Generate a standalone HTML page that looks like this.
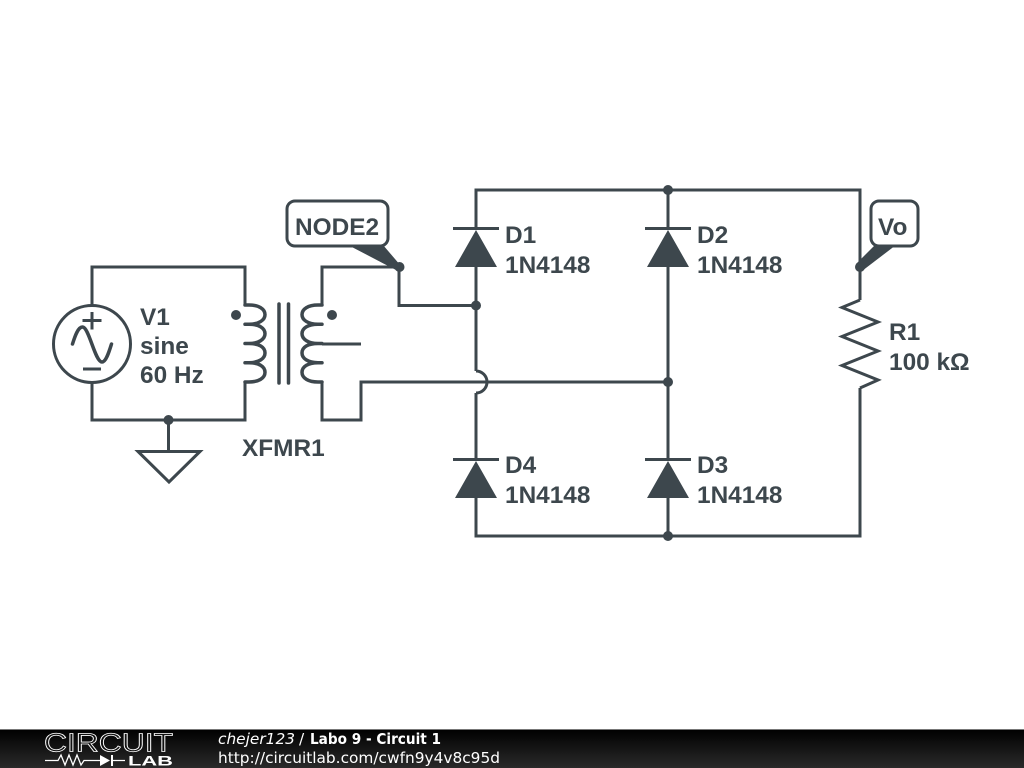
<!DOCTYPE html>
<html><head><meta charset="utf-8"><style>
html,body{margin:0;padding:0;background:#fff;width:1024px;height:768px;overflow:hidden}
svg{display:block}
.t{font-family:"Liberation Sans",sans-serif;font-weight:700;font-size:24.4px;fill:#3d474d}
.w{fill:none;stroke:#3d474d;stroke-width:3;stroke-linejoin:miter;stroke-linecap:butt}
.c{fill:none;stroke:#3d474d;stroke-width:3.500;stroke-linecap:round;stroke-linejoin:round}
.d{fill:#3d474d;stroke:none}
.f{font-family:"DejaVu Sans",sans-serif;font-size:15.4px;fill:#fff}
</style></head><body>
<svg width="1024" height="768" viewBox="0 0 1024 768" xmlns="http://www.w3.org/2000/svg">
<defs><linearGradient id="g" x1="0" y1="0" x2="0" y2="1"><stop offset="0" stop-color="#000"/><stop offset="1" stop-color="#2a2a2a"/></linearGradient></defs>
<rect width="1024" height="768" fill="#fff"/>
<path class="w" d="M92 306V267H245V305M245 383V420H92V383"/>
<path class="w" d="M168.500 420V451"/>
<path class="w" d="M138 451.500H200L169 482Z"/>
<circle class="w" cx="92" cy="344" r="38.500"/>
<path class="c" stroke-width="3" d="M72.500 344C75 336 78 327 82.500 327C89 327 95 362 102 362C106 362 109 352 111.500 344"/>
<path class="w" stroke-width="2.500" d="M92 312V329.500M82.500 320.500H101.500M83 369H101"/>
<path class="c" d="M245 305H249C259 305 265 309 265 314.600C265 320 259 324.200 249 324.200H245M249 324.200C259 324.200 265 328 265 333.800C265 339 259 343.500 249 343.500H245M249 343.500C259 343.500 265 347 265 353C265 358.500 259 362.700 249 362.700H245M249 362.700C259 362.700 265 366.500 265 372.300C265 378 259 382 249 382H245"/>
<path class="c" d="M322 305H318C308 305 302 309 302 314.600C302 320 308 324.200 318 324.200H322M318 324.200C308 324.200 302 328 302 333.800C302 339 308 343.500 318 343.500H322M318 343.500C308 343.500 302 347 302 353C302 358.500 308 362.700 318 362.700H322M318 362.700C308 362.700 302 366.500 302 372.300C302 378 308 382 318 382H322"/>
<circle class="d" cx="236" cy="315" r="5"/>
<circle class="d" cx="332" cy="315" r="5"/>
<path class="c" d="M279 304V383M288.500 304V383"/>
<path class="w" d="M322 305V267H399V305.500H476"/>
<path class="w" stroke-linecap="round" d="M322 344H361"/>
<path class="w" d="M322 382V420H361V382H668"/>
<path class="w" d="M476 229V190H860V300M476 267V371M476 371A11 11 0 0 1 476 393M476 393V460M476 497V536H860V388"/>
<path class="w" d="M668 190V229M668 267V460M668 497V536"/>
<path class="w" d="M860 300L842 307.500L878 322L842 336.500L878 351L842 365.500L878 380L860 388"/>
<path class="w" d="M453 228.500H499M645 228.500H691M453 459.500H499M645 459.500H691"/>
<path class="d" d="M476 230L455 267H497ZM668 230L647 267H689ZM476 461L455 498H497ZM668 461L647 498H689Z"/>
<circle class="d" cx="668" cy="190" r="5"/>
<circle class="d" cx="476" cy="305.500" r="5"/>
<circle class="d" cx="668" cy="382" r="5"/>
<circle class="d" cx="668" cy="536" r="5"/>
<circle class="d" cx="168.500" cy="420" r="5"/>
<circle class="d" cx="399.500" cy="267" r="5"/>
<circle class="d" cx="860" cy="267" r="5"/>
<path class="d" d="M348 245H383L401 266L396 270Z"/>
<path class="d" d="M875 245H896L862 271L856 264Z"/>
<rect x="287" y="201" width="101" height="45" rx="8" fill="#fff" stroke="#3d474d" stroke-width="3"/>
<rect x="871" y="201" width="47" height="45" rx="8" fill="#fff" stroke="#3d474d" stroke-width="3"/>
<text class="t" x="295" y="235">NODE2</text>
<text class="t" x="878" y="235">Vo</text>
<text class="t" x="140" y="325">V1</text>
<text class="t" x="140" y="354">sine</text>
<text class="t" x="140" y="383">60 Hz</text>
<text class="t" x="242" y="456">XFMR1</text>
<text class="t" x="505" y="243">D1</text>
<text class="t" x="505" y="273">1N4148</text>
<text class="t" x="697" y="243">D2</text>
<text class="t" x="697" y="273">1N4148</text>
<text class="t" x="505" y="473">D4</text>
<text class="t" x="505" y="503">1N4148</text>
<text class="t" x="697" y="473">D3</text>
<text class="t" x="697" y="503">1N4148</text>
<text class="t" x="889" y="340">R1</text>
<text class="t" x="889" y="370">100 kΩ</text>
<rect y="729" width="1024" height="39" fill="url(#g)"/>
<rect y="729" width="1024" height="1" fill="#777"/>
<text x="44" y="751.500" font-family="'Liberation Sans',sans-serif" font-size="26" fill="#111" stroke="#fff" stroke-width=".8" textLength="129" lengthAdjust="spacingAndGlyphs">CIRCUIT</text>
<path d="M45 760.500H58L61 755L65 765L69 755L73 765L77 755L81 765L84 760.500H100M112 760.500H125" fill="none" stroke="#fff" stroke-width="1.300"/>
<path d="M100 755V766L110 760.500ZM111 755H113V766H111Z" fill="#fff"/>
<text x="128" y="765.500" font-family="'Liberation Sans',sans-serif" font-weight="700" font-size="13.500" fill="#fff" textLength="45" lengthAdjust="spacingAndGlyphs">LAB</text>
<text class="f" x="218" y="744" font-style="italic" textLength="77" lengthAdjust="spacingAndGlyphs">chejer123</text>
<text class="f" x="299" y="744">/</text>
<text class="f" x="310" y="744" font-weight="700" textLength="131" lengthAdjust="spacingAndGlyphs">Labo 9 - Circuit 1</text>
<text class="f" x="218" y="763" textLength="282" lengthAdjust="spacingAndGlyphs">http://circuitlab.com/cwfn9y4v8c95d</text>
</svg>
</body></html>
